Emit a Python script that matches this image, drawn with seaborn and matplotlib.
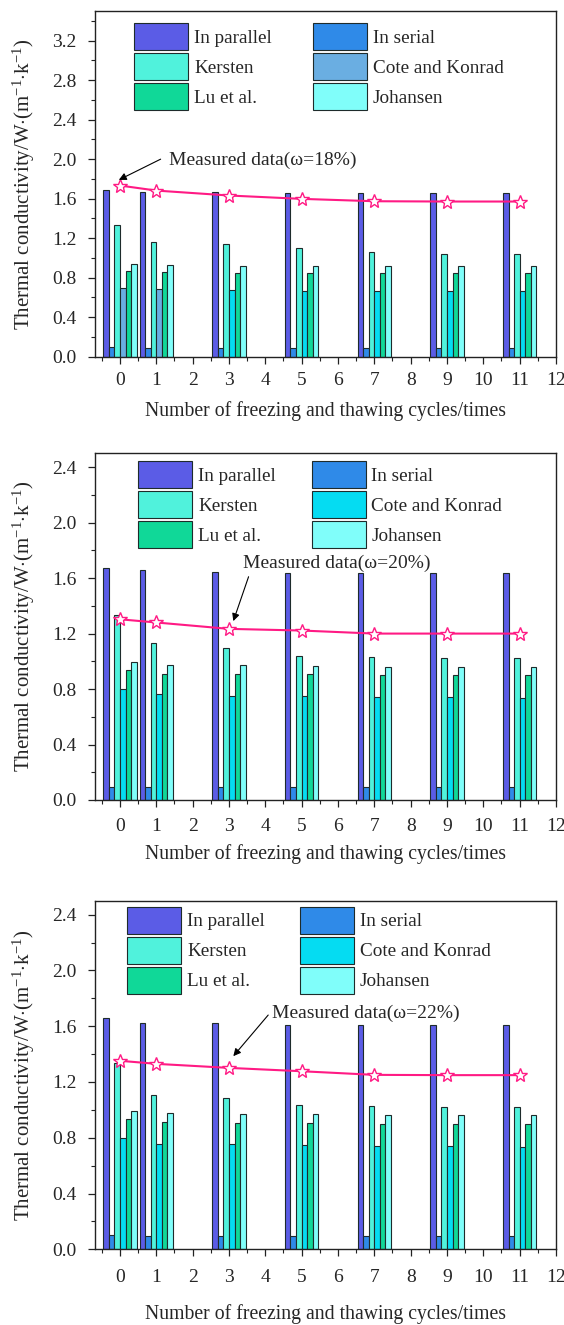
import numpy as np
import pandas as pd
import matplotlib
matplotlib.use("Agg")
import matplotlib.pyplot as plt
from matplotlib.patches import Patch
from matplotlib.ticker import MultipleLocator, FormatStrFormatter
import seaborn as sns

# ---------------- data ----------------
cycles = [0, 1, 3, 5, 7, 9, 11]
models = ["In parallel", "In serial", "Kersten", "Cote and Konrad", "Lu et al.", "Johansen"]

# water content 18 %
parallel_18 = [1.690, 1.670, 1.665, 1.655, 1.655, 1.655, 1.655]
serial_18 = [0.095, 0.090, 0.090, 0.090, 0.090, 0.090, 0.090]
kersten_18 = [1.335, 1.165, 1.140, 1.105, 1.060, 1.040, 1.035]
cote_18 = [0.700, 0.685, 0.672, 0.666, 0.662, 0.662, 0.662]
lu_18 = [0.872, 0.858, 0.851, 0.845, 0.845, 0.845, 0.845]
johansen_18 = [0.943, 0.929, 0.922, 0.922, 0.919, 0.916, 0.916]
measured_18 = [1.733, 1.682, 1.632, 1.598, 1.574, 1.571, 1.571]

# water content 20 %
parallel_20 = [1.673, 1.655, 1.643, 1.635, 1.635, 1.635, 1.635]
serial_20 = [0.096, 0.093, 0.092, 0.092, 0.092, 0.092, 0.092]
kersten_20 = [1.337, 1.129, 1.097, 1.037, 1.034, 1.025, 1.022]
cote_20 = [0.797, 0.761, 0.753, 0.753, 0.741, 0.741, 0.738]
lu_20 = [0.935, 0.911, 0.909, 0.907, 0.902, 0.899, 0.899]
johansen_20 = [0.992, 0.976, 0.972, 0.969, 0.962, 0.962, 0.962]
measured_20 = [1.303, 1.280, 1.234, 1.222, 1.200, 1.200, 1.200]

# water content 22 %
parallel_22 = [1.660, 1.624, 1.624, 1.612, 1.612, 1.612, 1.612]
serial_22 = [0.103, 0.096, 0.096, 0.094, 0.094, 0.094, 0.094]
kersten_22 = [1.333, 1.104, 1.082, 1.036, 1.031, 1.020, 1.017]
cote_22 = [0.795, 0.758, 0.752, 0.750, 0.740, 0.738, 0.735]
lu_22 = [0.934, 0.915, 0.907, 0.907, 0.900, 0.898, 0.898]
johansen_22 = [0.992, 0.974, 0.972, 0.969, 0.962, 0.962, 0.960]
measured_22 = [1.352, 1.330, 1.301, 1.277, 1.251, 1.249, 1.249]

water_labels = ["18%", "20%", "22%"]
y_limits = [3.5, 2.5, 2.5]

series = [
    [parallel_18, serial_18, kersten_18, cote_18, lu_18, johansen_18],
    [parallel_20, serial_20, kersten_20, cote_20, lu_20, johansen_20],
    [parallel_22, serial_22, kersten_22, cote_22, lu_22, johansen_22],
]
measured = [measured_18, measured_20, measured_22]

# ---------------- style ----------------
sns.set_theme(style="ticks")
plt.rcParams["font.family"] = ["Liberation Serif", "DejaVu Serif"]
plt.rcParams["mathtext.fontset"] = "custom"
plt.rcParams["mathtext.rm"] = "Liberation Serif"
plt.rcParams["mathtext.it"] = "Liberation Serif:italic"
plt.rcParams["font.size"] = 14

colors = {
    "In parallel": "#5b5ce6",
    "In serial": "#2f8ae8",
    "Kersten": "#50f2dc",
    "Cote and Konrad": "#05dcf2",
    "Lu et al.": "#10d898",
    "Johansen": "#80fefa",
}
cote_alt = "#6aaee2"
line_color = "#ff1a84"
edge = "#1e2b2b"

fig = plt.figure(figsize=(5.64, 13.25), dpi=100)
W, H = 564, 1325
ax_boxes = [  # left, top, right, bottom in pixels
    (94.5, 11.0, 556.0, 356.7),
    (94.5, 453.3, 556.0, 800.0),
    (94.5, 900.7, 556.0, 1249.3),
]
legend_anchor = [(0.086, 0.964), (0.095, 0.978), (0.071, 0.983)]
legend_colsp = [2.14, 1.86, 1.84]
# annotation: text (x, y), arrow start, arrow end  (data coords)
annot = [
    ((1.35, 1.99), (1.12, 2.00), (-0.03, 1.79)),
    ((3.38, 1.71), (3.54, 1.61), (3.12, 1.29)),
    ((4.18, 1.69), (4.08, 1.68), (3.12, 1.385)),
]
xtick_pad = [6, 8, 9.5]
xlabel_pad = [8.5, 6.5, 13]
LEG_FS = 13.8

for i in range(3):
    l, t, r, b = ax_boxes[i]
    ax = fig.add_axes([l / W, 1 - b / H, (r - l) / W, (b - t) / H])

    df = pd.DataFrame({
        "cycle": np.repeat([cycles], len(models), axis=0).ravel(),
        "model": np.repeat(models, len(cycles)),
        "k": np.concatenate(series[i]),
    })
    sns.barplot(data=df, x="cycle", y="k", hue="model", hue_order=models,
                palette=colors, native_scale=True, width=0.92, gap=0,
                saturation=1, errorbar=None, edgecolor=edge, linewidth=0.8,
                legend=False, ax=ax, zorder=2)

    cote_leg = colors["Cote and Konrad"]
    if i == 0:
        # first two groups of the 18 % panel use the steel-blue shade
        cote_leg = cote_alt
        for p in ax.containers[3]:
            if p.get_x() + p.get_width() / 2 < 1.5:
                p.set_facecolor(cote_alt)

    sns.lineplot(x=cycles, y=measured[i], color=line_color, lw=1.5,
                 marker="*", markersize=10, markerfacecolor="white",
                 markeredgecolor=line_color, markeredgewidth=1.0,
                 ax=ax, zorder=4)

    (tx, ty), (sx, sy), (ex, ey) = annot[i]
    ax.text(tx, ty, f"Measured data(ω={water_labels[i]})", ha="left",
            va="center", fontsize=14, zorder=5)
    ax.annotate("", xy=(ex, ey), xytext=(sx, sy),
                arrowprops=dict(arrowstyle="-|>", color="black", lw=0.8,
                                mutation_scale=11, shrinkA=0, shrinkB=0),
                zorder=5)

    ax.set_xlim(-0.7, 12.0)
    ax.set_ylim(0, y_limits[i])
    ax.set_xticks(range(13))
    ax.xaxis.set_minor_locator(MultipleLocator(0.5))
    ax.yaxis.set_major_locator(MultipleLocator(0.4))
    ax.yaxis.set_minor_locator(MultipleLocator(0.2))
    ax.yaxis.set_major_formatter(FormatStrFormatter("%.1f"))
    ax.tick_params(which="major", direction="out", length=5, width=0.9,
                   labelsize=14, color="#222222")
    ax.tick_params(which="minor", direction="out", length=3, width=0.8,
                   color="#222222")
    ax.tick_params(axis="x", which="major", pad=xtick_pad[i])
    ax.tick_params(axis="y", which="major", pad=8)
    for s in ax.spines.values():
        s.set_linewidth(1.0)
        s.set_color("#222222")
        s.set_visible(True)

    ax.set_xlabel("Number of freezing and thawing cycles/times", fontsize=14.2,
                  labelpad=xlabel_pad[i])
    ax.set_ylabel(r"Thermal conductivity/W$\cdot$(m$^{-1}$$\cdot$k$^{-1}$)",
                  fontsize=15)
    ax.yaxis.set_label_coords(-0.125, 0.5)

    leg_colors = dict(colors)
    leg_colors["Cote and Konrad"] = cote_leg
    order = ["In parallel", "Kersten", "Lu et al.", "In serial",
             "Cote and Konrad", "Johansen"]
    handles = [Patch(facecolor=leg_colors[m], edgecolor=edge, linewidth=0.8)
               for m in order]
    ax.legend(handles, order, ncol=2, loc="upper left",
              bbox_to_anchor=legend_anchor[i], frameon=False, fontsize=LEG_FS,
              handlelength=2.82, handleheight=1.79, handletextpad=0.3,
              labelspacing=0.157, columnspacing=legend_colsp[i],
              borderpad=0, borderaxespad=0)

fig.savefig("out.png", dpi=100)
